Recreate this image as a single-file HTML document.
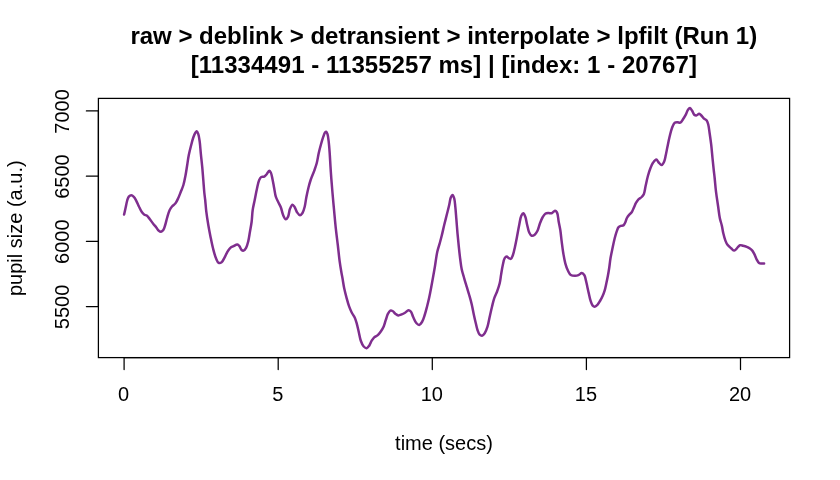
<!DOCTYPE html>
<html><head><meta charset="utf-8"><title>pupil size plot</title>
<style>
html,body{margin:0;padding:0;background:#fff;}
body{width:840px;height:480px;overflow:hidden;}
svg{display:block;will-change:transform;}
text{font-family:"Liberation Sans", Arial, Helvetica, sans-serif;}
</style></head>
<body>
<svg width="840" height="480" viewBox="0 0 840 480">
<rect x="0" y="0" width="840" height="480" fill="#ffffff"/>
<g font-weight="bold" font-size="24" text-anchor="middle" fill="#000">
<text x="443.8" y="43.6">raw &gt; deblink &gt; detransient &gt; interpolate &gt; lpfilt (Run 1)</text>
<text x="443.8" y="72.8" textLength="506.2" lengthAdjust="spacing">[11334491 - 11355257 ms] | [index: 1 - 20767]</text>
</g>
<path d="M124.10,214.60 C124.57,212.50 125.01,210.51 125.50,208.30 C126.04,205.84 126.54,202.63 127.20,200.50 C127.68,198.95 128.00,197.50 128.80,196.60 C129.46,195.86 130.47,195.18 131.30,195.20 C132.14,195.22 133.04,196.03 133.80,196.80 C134.75,197.76 135.51,199.34 136.30,200.80 C137.19,202.44 137.89,204.36 138.80,206.20 C139.78,208.18 140.89,210.79 142.00,212.30 C142.78,213.36 143.55,214.14 144.40,214.70 C145.13,215.18 145.95,215.07 146.70,215.60 C147.72,216.32 148.70,217.76 149.70,219.00 C150.80,220.37 151.88,222.06 153.00,223.50 C154.08,224.89 155.29,226.22 156.30,227.50 C157.20,228.64 157.89,230.10 158.80,230.80 C159.49,231.33 160.28,231.79 161.00,231.70 C161.79,231.60 162.66,230.84 163.30,230.00 C164.17,228.85 164.60,226.85 165.20,225.00 C165.92,222.77 166.45,219.99 167.20,217.50 C167.95,214.99 168.71,212.01 169.70,210.00 C170.44,208.49 171.23,207.42 172.20,206.30 C173.17,205.18 174.54,204.54 175.50,203.30 C176.62,201.86 177.44,199.86 178.30,198.00 C179.21,196.04 179.97,193.92 180.80,191.80 C181.67,189.59 182.65,187.49 183.40,185.00 C184.26,182.13 184.88,178.76 185.50,175.50 C186.15,172.10 186.64,168.46 187.20,165.00 C187.74,161.63 188.15,158.25 188.80,155.00 C189.43,151.86 190.23,148.78 191.00,145.80 C191.73,142.96 192.45,139.89 193.30,137.50 C193.98,135.60 194.78,133.56 195.50,132.50 C195.90,131.91 196.31,131.24 196.70,131.30 C197.25,131.38 197.86,132.96 198.30,134.20 C198.97,136.08 199.31,138.92 199.70,141.70 C200.18,145.14 200.40,149.29 200.80,153.30 C201.23,157.61 201.78,162.24 202.20,166.70 C202.62,171.14 202.94,175.64 203.30,180.00 C203.64,184.23 203.94,188.87 204.30,192.50 C204.58,195.32 204.90,197.22 205.20,200.00 C205.57,203.47 205.81,207.68 206.30,211.70 C206.82,216.00 207.58,220.72 208.30,225.00 C208.98,229.03 209.72,232.81 210.50,236.70 C211.28,240.58 212.04,244.57 213.00,248.30 C213.92,251.85 214.95,255.98 216.10,258.60 C216.88,260.37 217.52,262.30 218.60,262.80 C219.45,263.19 220.73,262.88 221.60,262.30 C222.75,261.53 223.53,259.36 224.40,257.80 C225.30,256.20 225.97,254.40 226.90,252.80 C227.81,251.23 228.70,249.44 229.90,248.30 C230.97,247.28 232.35,246.74 233.60,246.10 C234.81,245.48 236.27,244.37 237.30,244.50 C238.13,244.60 238.76,245.36 239.40,246.10 C240.23,247.06 240.72,249.30 241.60,250.00 C242.20,250.48 242.95,250.78 243.60,250.60 C244.47,250.35 245.39,249.03 246.10,247.80 C247.07,246.12 247.69,243.53 248.30,241.10 C249.00,238.32 249.36,235.11 249.90,232.00 C250.46,228.75 251.14,225.49 251.60,222.00 C252.10,218.19 252.15,213.80 252.70,210.00 C253.21,206.50 254.02,203.41 254.70,200.00 C255.42,196.42 256.11,192.47 256.90,189.00 C257.62,185.84 258.22,182.14 259.20,180.00 C259.82,178.66 260.40,177.53 261.30,177.00 C262.11,176.53 263.33,177.11 264.20,176.70 C265.15,176.25 265.90,175.13 266.70,174.20 C267.57,173.18 268.43,170.85 269.20,170.80 C269.77,170.77 270.34,171.66 270.80,172.50 C271.59,173.94 271.97,176.79 272.50,179.20 C273.11,181.99 273.64,185.33 274.20,188.30 C274.74,191.16 275.02,194.24 275.80,196.70 C276.46,198.77 277.45,200.42 278.30,202.20 C279.12,203.91 280.04,205.29 280.80,207.20 C281.75,209.58 282.28,213.34 283.30,215.50 C284.04,217.05 284.95,219.14 285.80,219.20 C286.52,219.25 287.39,217.94 288.00,216.80 C288.97,214.99 289.09,210.97 290.00,208.80 C290.69,207.14 291.64,204.77 292.50,204.70 C293.22,204.64 294.03,206.16 294.70,207.20 C295.57,208.53 296.04,210.81 297.00,212.20 C297.85,213.42 299.03,215.17 300.00,215.20 C300.86,215.23 301.80,214.04 302.50,213.00 C303.49,211.52 304.10,209.03 304.70,206.70 C305.41,203.95 305.69,200.62 306.30,197.50 C306.94,194.23 307.71,190.64 308.50,187.50 C309.22,184.67 309.89,182.20 310.80,179.50 C311.77,176.64 313.19,173.60 314.20,170.80 C315.13,168.22 315.98,166.00 316.70,163.30 C317.52,160.23 317.98,156.47 318.70,153.30 C319.36,150.40 320.04,147.76 320.80,145.00 C321.57,142.22 322.50,138.98 323.30,136.70 C323.88,135.05 324.34,133.31 325.00,132.50 C325.37,132.04 325.84,131.61 326.20,131.70 C326.71,131.83 327.14,133.11 327.50,134.20 C328.09,136.00 328.36,138.92 328.70,141.70 C329.12,145.14 329.41,149.29 329.70,153.30 C330.01,157.60 330.22,162.39 330.50,166.70 C330.76,170.71 330.99,174.21 331.30,178.30 C331.65,182.91 332.05,187.81 332.50,193.00 C333.01,198.86 333.63,205.65 334.20,211.70 C334.73,217.40 335.20,222.76 335.80,228.30 C336.40,233.86 337.15,239.43 337.80,245.00 C338.45,250.57 339.02,256.68 339.70,261.70 C340.26,265.84 340.97,269.94 341.50,273.00 C341.87,275.10 342.13,276.25 342.50,278.30 C343.00,281.11 343.50,284.98 344.20,288.30 C344.90,291.65 345.83,295.12 346.70,298.30 C347.50,301.23 348.29,304.18 349.20,306.70 C349.98,308.84 350.76,310.67 351.70,312.50 C352.60,314.26 353.87,315.73 354.70,317.50 C355.55,319.32 356.08,321.17 356.70,323.30 C357.43,325.83 358.03,328.85 358.70,331.70 C359.39,334.65 359.85,338.08 360.80,340.70 C361.59,342.90 362.50,345.24 363.70,346.50 C364.58,347.42 365.79,348.32 366.70,348.20 C367.62,348.07 368.44,346.75 369.20,345.70 C370.15,344.38 370.79,342.16 371.70,340.70 C372.48,339.45 373.21,338.29 374.20,337.40 C375.15,336.54 376.47,336.28 377.50,335.40 C378.69,334.39 379.79,332.93 380.80,331.50 C381.87,329.98 382.89,328.33 383.70,326.50 C384.59,324.50 385.07,322.06 385.80,319.90 C386.51,317.80 387.11,315.34 388.00,313.70 C388.68,312.46 389.43,311.06 390.30,310.70 C390.97,310.42 391.78,310.65 392.50,311.00 C393.45,311.46 394.30,312.95 395.30,313.70 C396.24,314.40 397.24,315.28 398.30,315.40 C399.37,315.52 400.60,314.84 401.70,314.40 C402.83,313.95 403.91,313.37 405.00,312.70 C406.18,311.98 407.44,310.26 408.50,310.20 C409.33,310.16 410.13,310.75 410.80,311.50 C411.81,312.62 412.32,315.14 413.20,317.00 C414.14,318.97 415.09,321.63 416.30,323.00 C417.17,323.99 418.28,325.10 419.20,325.00 C420.19,324.89 421.18,323.31 422.00,322.00 C423.11,320.23 423.89,317.45 424.70,315.00 C425.57,312.37 426.27,309.54 427.00,306.70 C427.77,303.72 428.51,300.70 429.20,297.50 C429.95,294.05 430.62,290.31 431.30,286.70 C431.98,283.08 432.67,279.34 433.30,275.80 C433.90,272.45 434.51,269.04 435.00,266.00 C435.42,263.36 435.71,261.02 436.10,258.60 C436.48,256.26 436.74,254.12 437.30,251.70 C437.93,248.95 439.04,245.77 439.80,243.00 C440.49,240.49 441.04,238.45 441.70,235.80 C442.50,232.57 443.35,228.53 444.20,225.00 C445.02,221.60 445.87,218.33 446.70,215.00 C447.53,211.67 448.48,208.10 449.20,205.00 C449.82,202.33 450.04,199.28 450.80,197.50 C451.28,196.38 451.96,194.97 452.50,195.00 C453.10,195.04 453.76,196.90 454.20,198.30 C454.86,200.42 454.97,203.67 455.30,206.70 C455.69,210.25 455.96,214.18 456.30,218.30 C456.69,222.98 457.07,228.44 457.50,233.30 C457.91,237.89 458.34,242.33 458.80,246.70 C459.24,250.89 459.69,255.10 460.20,259.00 C460.66,262.56 461.01,265.92 461.70,269.20 C462.36,272.34 463.35,275.33 464.20,278.30 C465.02,281.16 465.86,283.91 466.70,286.70 C467.53,289.48 468.39,292.16 469.20,295.00 C470.05,297.98 470.94,301.00 471.70,304.20 C472.52,307.64 473.17,311.64 473.90,315.00 C474.54,317.95 475.17,320.68 475.80,323.30 C476.37,325.66 476.78,327.99 477.50,330.00 C478.12,331.74 478.75,333.75 479.70,334.70 C480.36,335.37 481.24,335.91 482.00,335.80 C482.91,335.66 483.90,334.44 484.70,333.30 C485.82,331.70 486.71,329.17 487.50,326.70 C488.44,323.75 488.95,320.03 489.70,316.70 C490.45,313.36 491.22,309.88 492.00,306.70 C492.72,303.77 493.31,300.90 494.20,298.30 C495.01,295.94 496.12,294.05 497.00,291.70 C497.97,289.09 499.02,286.15 499.70,283.30 C500.38,280.45 500.60,277.57 501.10,274.60 C501.63,271.48 502.14,267.92 502.80,265.00 C503.37,262.50 503.78,259.55 504.70,258.10 C505.26,257.22 506.03,256.40 506.70,256.40 C507.37,256.40 507.99,257.68 508.70,258.10 C509.36,258.49 510.18,259.13 510.80,258.90 C511.69,258.57 512.37,256.44 513.00,254.80 C513.85,252.60 514.36,249.55 515.00,246.70 C515.70,243.55 516.33,240.17 517.00,236.70 C517.73,232.96 518.44,228.66 519.20,225.00 C519.88,221.74 520.32,217.83 521.30,215.80 C521.87,214.62 522.66,213.25 523.30,213.30 C524.01,213.35 524.74,215.29 525.30,216.70 C526.08,218.67 526.37,221.64 527.00,224.20 C527.66,226.90 528.19,230.43 529.20,232.50 C529.90,233.94 530.70,235.51 531.70,235.80 C532.57,236.06 533.81,235.38 534.70,234.70 C535.79,233.87 536.69,232.38 537.50,230.80 C538.54,228.77 539.11,225.62 540.00,223.30 C540.79,221.22 541.53,219.18 542.50,217.50 C543.33,216.05 544.20,214.43 545.30,213.70 C546.19,213.11 547.26,213.07 548.30,213.00 C549.39,212.92 550.63,213.61 551.70,213.30 C552.88,212.96 554.05,210.77 555.00,210.80 C555.76,210.82 556.46,211.57 557.00,212.50 C558.02,214.26 558.14,218.71 558.70,221.70 C559.24,224.54 559.83,226.99 560.30,230.00 C560.85,233.56 561.20,237.81 561.70,241.70 C562.20,245.58 562.67,249.59 563.30,253.30 C563.89,256.77 564.45,260.24 565.30,263.30 C566.05,266.01 566.95,268.71 568.00,270.80 C568.84,272.46 569.56,274.18 570.80,275.00 C571.94,275.76 573.67,275.79 575.00,275.80 C576.19,275.81 577.31,275.62 578.40,275.20 C579.58,274.75 580.76,273.03 581.80,273.10 C582.75,273.16 583.74,274.21 584.40,275.20 C585.24,276.46 585.43,278.58 585.90,280.40 C586.41,282.39 586.82,284.57 587.30,286.70 C587.79,288.90 588.29,291.16 588.80,293.40 C589.32,295.66 589.74,298.11 590.40,300.20 C591.00,302.07 591.55,304.32 592.50,305.40 C593.15,306.14 594.02,306.74 594.80,306.70 C595.65,306.66 596.60,305.71 597.40,304.90 C598.37,303.91 599.17,302.40 600.00,301.00 C600.91,299.46 601.83,297.75 602.60,296.00 C603.40,294.19 604.10,292.30 604.70,290.30 C605.35,288.15 605.79,285.80 606.30,283.50 C606.82,281.14 607.33,278.79 607.80,276.30 C608.30,273.64 608.76,270.88 609.20,268.00 C609.67,264.90 609.96,261.55 610.50,258.30 C611.05,254.98 611.80,251.63 612.50,248.30 C613.20,244.96 613.92,241.35 614.70,238.30 C615.37,235.69 616.05,233.11 616.80,231.10 C617.37,229.58 617.81,228.08 618.60,227.20 C619.20,226.52 619.97,226.20 620.75,225.90 C621.56,225.59 622.69,225.88 623.40,225.40 C624.16,224.89 624.58,223.83 625.10,222.80 C625.77,221.47 626.16,219.39 626.90,218.00 C627.53,216.81 628.29,215.86 629.10,214.90 C629.89,213.96 630.95,213.38 631.70,212.30 C632.60,211.01 633.17,209.10 633.90,207.50 C634.63,205.90 635.25,204.13 636.10,202.70 C636.87,201.40 637.72,200.17 638.70,199.20 C639.60,198.30 640.84,197.88 641.70,197.00 C642.57,196.11 643.31,195.25 643.90,193.90 C644.76,191.94 644.98,188.79 645.60,186.00 C646.30,182.86 647.03,179.13 647.90,176.00 C648.68,173.17 649.56,170.35 650.50,168.00 C651.28,166.05 651.96,164.26 653.00,162.80 C653.93,161.48 655.31,159.45 656.30,159.50 C657.19,159.55 657.80,161.59 658.70,162.50 C659.60,163.42 660.80,165.12 661.70,165.00 C662.64,164.88 663.55,162.92 664.20,161.50 C665.01,159.73 665.28,157.32 665.80,155.00 C666.39,152.36 666.88,149.46 667.50,146.50 C668.17,143.25 668.91,139.51 669.70,136.30 C670.42,133.38 671.06,130.42 672.00,128.00 C672.78,125.99 673.53,123.56 674.70,122.70 C675.51,122.10 676.57,122.20 677.50,122.20 C678.43,122.20 679.46,123.02 680.30,122.70 C681.34,122.31 682.13,120.55 683.00,119.30 C683.97,117.91 684.97,116.29 685.80,114.70 C686.64,113.09 687.13,110.87 688.00,109.70 C688.60,108.89 689.36,107.94 690.00,108.00 C690.70,108.07 691.36,109.52 692.00,110.50 C692.78,111.69 693.30,113.90 694.20,114.70 C694.82,115.25 695.56,115.56 696.30,115.50 C697.21,115.42 698.33,113.73 699.20,113.80 C699.98,113.86 700.61,114.83 701.30,115.50 C702.11,116.29 702.80,117.47 703.70,118.30 C704.60,119.14 705.95,119.51 706.70,120.50 C707.53,121.59 707.86,123.04 708.30,124.70 C708.90,126.97 709.16,129.99 709.60,133.00 C710.12,136.56 710.73,140.67 711.20,144.70 C711.70,148.99 712.07,153.71 712.50,158.00 C712.90,162.03 713.32,166.20 713.70,169.70 C714.01,172.56 714.28,174.51 714.60,177.50 C715.03,181.53 715.42,186.94 716.00,191.70 C716.59,196.54 717.44,201.70 718.10,206.30 C718.70,210.42 719.09,214.55 719.80,218.00 C720.37,220.80 721.22,222.97 721.80,225.50 C722.39,228.06 722.69,230.76 723.30,233.30 C723.90,235.79 724.59,238.53 725.40,240.60 C726.03,242.23 726.57,243.53 727.50,244.80 C728.46,246.11 729.90,247.29 731.10,248.30 C732.16,249.19 733.31,250.65 734.30,250.60 C735.23,250.55 736.01,249.14 736.90,248.30 C737.90,247.36 738.87,245.57 740.00,245.20 C740.96,244.89 742.03,245.46 743.10,245.70 C744.29,245.97 745.65,246.32 746.80,246.80 C747.91,247.26 748.95,247.82 749.90,248.50 C750.85,249.18 751.74,249.95 752.50,250.90 C753.33,251.95 753.94,253.27 754.60,254.60 C755.32,256.05 755.83,257.87 756.60,259.30 C757.31,260.62 758.05,262.23 759.00,262.90 C759.72,263.40 760.57,263.40 761.40,263.50 C762.27,263.61 763.20,263.50 764.10,263.50" fill="none" stroke="#7F2E8E" stroke-width="2.5" stroke-linejoin="round" stroke-linecap="round"/>
<g stroke="#000" stroke-width="1.25" fill="none" stroke-linecap="round">
<rect x="98.4" y="98.4" width="691.20" height="259.20" stroke-linecap="butt"/>
<line x1="124.10" y1="357.6" x2="740.50" y2="357.6"/>
<line x1="124.10" y1="357.60" x2="124.10" y2="369.60"/><line x1="278.20" y1="357.60" x2="278.20" y2="369.60"/><line x1="432.30" y1="357.60" x2="432.30" y2="369.60"/><line x1="586.40" y1="357.60" x2="586.40" y2="369.60"/><line x1="740.50" y1="357.60" x2="740.50" y2="369.60"/>
<line x1="98.4" y1="306.50" x2="98.4" y2="110.99"/>
<line x1="98.40" y1="306.50" x2="86.40" y2="306.50"/><line x1="98.40" y1="241.33" x2="86.40" y2="241.33"/><line x1="98.40" y1="176.16" x2="86.40" y2="176.16"/><line x1="98.40" y1="110.99" x2="86.40" y2="110.99"/>
</g>
<g font-size="20" fill="#000">
<text x="123.65" y="401.1" text-anchor="middle">0</text><text x="277.75" y="401.1" text-anchor="middle">5</text><text x="431.85" y="401.1" text-anchor="middle">10</text><text x="585.95" y="401.1" text-anchor="middle">15</text><text x="740.05" y="401.1" text-anchor="middle">20</text>
<text transform="translate(68.6,306.90) rotate(-90)" text-anchor="middle">5500</text><text transform="translate(68.6,241.73) rotate(-90)" text-anchor="middle">6000</text><text transform="translate(68.6,176.56) rotate(-90)" text-anchor="middle">6500</text><text transform="translate(68.6,111.39) rotate(-90)" text-anchor="middle">7000</text>
<text x="444" y="449.5" text-anchor="middle">time (secs)</text>
<text transform="translate(21.6,228.2) rotate(-90)" text-anchor="middle">pupil size (a.u.)</text>
</g>
</svg>
</body></html>
